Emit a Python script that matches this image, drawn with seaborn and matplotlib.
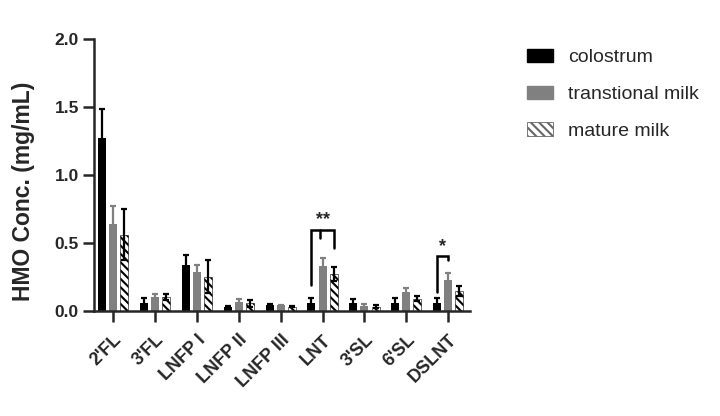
import numpy as np
import pandas as pd
import matplotlib
matplotlib.use("Agg")
import matplotlib.pyplot as plt
import seaborn as sns
from matplotlib.patches import Patch

sns.set_style("ticks")
plt.rcParams['font.family'] = ['Liberation Sans', 'DejaVu Sans']
plt.rcParams['hatch.linewidth'] = 1.5
plt.rcParams['hatch.color'] = 'black'

categories = ["2'FL", "3'FL", "LNFP I", "LNFP II", "LNFP III", "LNT", "3'SL", "6'SL", "DSLNT"]
groups = ["colostrum", "transtional milk", "mature milk"]

colostrum = [1.275, 0.06, 0.34, 0.025, 0.04, 0.06, 0.06, 0.06, 0.06]
colostrum_sd = [0.21, 0.035, 0.07, 0.01, 0.01, 0.035, 0.03, 0.035, 0.035]
transitional = [0.637, 0.10, 0.285, 0.062, 0.04, 0.33, 0.037, 0.135, 0.23]
transitional_sd = [0.135, 0.02, 0.055, 0.023, 0.005, 0.055, 0.015, 0.035, 0.05]
mature = [0.56, 0.10, 0.25, 0.055, 0.03, 0.27, 0.03, 0.09, 0.145]
mature_sd = [0.19, 0.02, 0.12, 0.025, 0.005, 0.05, 0.01, 0.02, 0.035]

# significance brackets: leg bottoms, bracket top, label
sig_cat = ["LNT", "DSLNT"]
sig_left = [0.19, 0.137]
sig_right = [0.46, 0.37]
sig_top = [0.593, 0.40]
sig_label = ["**", "*"]

df = pd.DataFrame({
    "HMO": categories * 3,
    "group": np.repeat(groups, len(categories)),
    "conc": colostrum + transitional + mature,
    "sd": colostrum_sd + transitional_sd + mature_sd,
})

fig = plt.figure(figsize=(7.2, 4.16), dpi=100)
ax = fig.add_axes([0.1306, 0.253, 0.522, 0.653])

sns.barplot(data=df, x="HMO", y="conc", hue="group", hue_order=groups,
            order=categories, palette=["black", "#808080", "white"],
            errorbar=None, width=0.8, legend=False, ax=ax)

err_colors = ["black", "#808080", "black"]
centers = {}
bar_containers = list(ax.containers)
for i, cont in enumerate(bar_containers):
    xs = []
    for bar in cont:
        cx = bar.get_x() + bar.get_width() / 2
        bar.set_width(0.19)
        bar.set_x(cx - 0.095)
        bar.set_linewidth(0)
        if i == 2:
            bar.set_hatch("\\\\\\\\")
            bar.set_edgecolor("black")
            bar.set_linewidth(0.4)
        xs.append(cx)
    centers[groups[i]] = xs
    sub = df[df["group"] == groups[i]]
    ax.errorbar(xs, sub["conc"], yerr=sub["sd"], fmt="none",
                ecolor=err_colors[i], elinewidth=1.6, capsize=2, capthick=1.6, zorder=3)

for c, lo_l, lo_r, top, lab in zip(sig_cat, sig_left, sig_right, sig_top, sig_label):
    k = categories.index(c)
    x1 = centers["colostrum"][k]
    x2 = centers["mature milk"][k] if lab == "**" else centers["transtional milk"][k]
    ax.plot([x1, x1, x2, x2], [lo_l, top, top, lo_r], color="black", lw=1.8,
            solid_joinstyle="miter")
    if lab == "**":
        xm = (x1 + x2) / 2 - 0.07
        ax.plot([xm, xm], [top, top - 0.058], color="black", lw=1.8)
    ax.text((x1 + x2) / 2, top + 0.012, lab, ha="center", va="bottom",
            fontsize=13, fontweight="bold")

ax.set_xlim(-0.46, 8.52)
ax.set_ylim(0, 2.0)
ax.set_yticks([0, 0.5, 1.0, 1.5, 2.0])
ax.set_yticklabels(["0.0", "0.5", "1.0", "1.5", "2.0"])
ax.set_xlabel("")
ax.set_ylabel("HMO Conc. (mg/mL)", fontsize=16.5, fontweight="bold")
ax.yaxis.set_label_coords(-0.157, 0.44)
sns.despine(ax=ax)
for s in ["left", "bottom"]:
    ax.spines[s].set_linewidth(1.8)
ax.tick_params(axis="both", width=1.8, length=8, pad=3)
ax.tick_params(axis="y", labelsize=12.5)
ax.tick_params(axis="x", labelsize=13, pad=7)
for lbl in ax.get_yticklabels():
    lbl.set_fontweight("bold")
for lbl in ax.get_xticklabels():
    lbl.set_fontweight("bold")
    lbl.set_rotation(45)
    lbl.set_ha("right")
    lbl.set_rotation_mode("anchor")

handles = [
    Patch(facecolor="black", edgecolor="black", label=groups[0]),
    Patch(facecolor="#808080", edgecolor="#808080", label=groups[1]),
    Patch(facecolor="white", edgecolor="#666666", hatch="\\\\\\\\", linewidth=0.6, label=groups[2]),
]
fig.legend(handles=handles, loc="upper left", bbox_to_anchor=(0.707, 0.925),
           frameon=False, fontsize=14, handlelength=1.34, handleheight=0.67,
           labelspacing=1.0, handletextpad=0.8)

plt.savefig("out.png", dpi=100)
